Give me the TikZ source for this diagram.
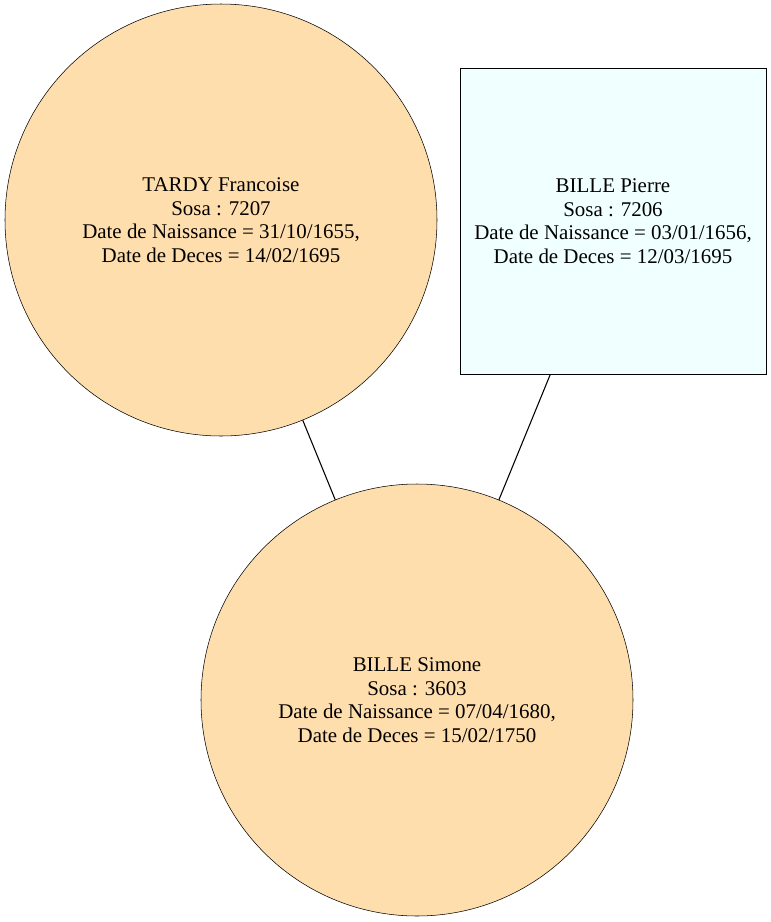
\documentclass[tikz,border=0pt]{standalone}
\usepackage{fontspec}
\setmainfont{Liberation Serif}
\definecolor{femme}{HTML}{FFDEAD}
\definecolor{homme}{HTML}{F0FFFF}
\begin{document}
\begin{tikzpicture}[x=0.75pt,y=-0.75pt,
    personne/.style={draw=black,align=center,inner sep=0pt,font=\fontsize{15.7}{17.7}\selectfont},
    femmenoeud/.style={personne,circle,fill=femme,minimum size=324pt},
    hommenoeud/.style={personne,rectangle,fill=homme,minimum size=229.5pt},
    lien/.style={draw=black,line width=0.8pt}]
    \useasboundingbox (0,0) rectangle (771,922);
    \node[femmenoeud] (tardy) at (221,220) {TARDY Francoise\\Sosa : 7207\\Date de Naissance = 31/10/1655,\\Date de Deces = 14/02/1695};
    \node[hommenoeud] (pierre) at (613,221) {BILLE Pierre\\Sosa : 7206\\Date de Naissance = 03/01/1656,\\Date de Deces = 12/03/1695};
    \node[femmenoeud] (simone) at (417,700) {BILLE Simone\\Sosa : 3603\\Date de Naissance = 07/04/1680,\\Date de Deces = 15/02/1750};
    \draw[lien] (tardy) -- (simone);
    \draw[lien] (pierre) -- (simone);
\end{tikzpicture}
\end{document}
